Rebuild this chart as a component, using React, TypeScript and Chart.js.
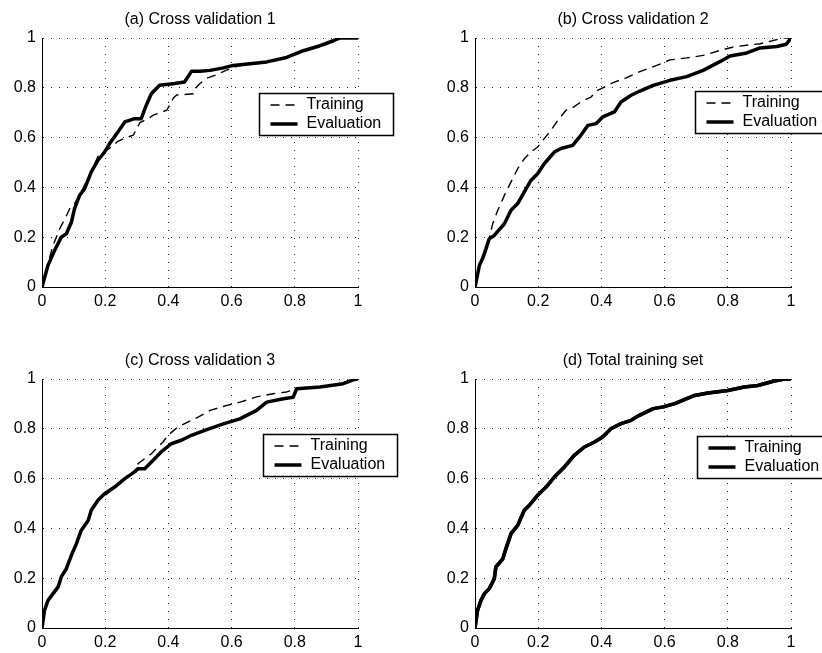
import React, { useEffect, useRef } from 'react';
import { Chart, registerables } from 'chart.js';

Chart.register(...registerables);
Chart.defaults.font.family = '"Liberation Sans", Arial, Helvetica, sans-serif';

// ---------- tick labels ----------
const TICK_VALUES = [0, 0.2, 0.4, 0.6, 0.8, 1];
const TICK_LABELS = ['0', '0.2', '0.4', '0.6', '0.8', '1'];
const SERIES_LABELS = ['Training', 'Evaluation'];
const PANEL_TITLES = [
  '(a) Cross validation 1',
  '(b) Cross validation 2',
  '(c) Cross validation 3',
  '(d) Total training set',
];

// ---------- (a) Cross validation 1 ----------
const A_TRAIN_X = [0, 0.02, 0.035, 0.056, 0.075, 0.088, 0.103, 0.12, 0.135, 0.156, 0.177, 0.2, 0.219, 0.24, 0.262, 0.289, 0.31, 0.34, 0.352, 0.395, 0.416, 0.426, 0.479, 0.49, 0.5, 0.52, 0.55, 0.584, 0.62, 0.7, 0.75, 0.8, 0.85, 0.9, 0.92, 0.94, 1];
const A_TRAIN_Y = [0, 0.1, 0.167, 0.234, 0.28, 0.315, 0.335, 0.37, 0.41, 0.46, 0.525, 0.545, 0.562, 0.585, 0.598, 0.61, 0.66, 0.68, 0.69, 0.71, 0.759, 0.771, 0.776, 0.804, 0.817, 0.838, 0.851, 0.871, 0.888, 0.9, 0.915, 0.935, 0.955, 0.975, 0.985, 1, 1];
const A_EVAL_X = [0, 0.019, 0.04, 0.061, 0.077, 0.093, 0.103, 0.119, 0.135, 0.156, 0.177, 0.198, 0.214, 0.24, 0.262, 0.293, 0.314, 0.33, 0.346, 0.372, 0.42, 0.451, 0.473, 0.5, 0.532, 0.574, 0.605, 0.658, 0.711, 0.774, 0.827, 0.88, 0.922, 0.943, 1];
const A_EVAL_Y = [0, 0.087, 0.147, 0.2, 0.214, 0.26, 0.315, 0.368, 0.395, 0.462, 0.509, 0.542, 0.576, 0.622, 0.663, 0.676, 0.676, 0.73, 0.776, 0.81, 0.817, 0.823, 0.866, 0.866, 0.87, 0.88, 0.89, 0.897, 0.904, 0.922, 0.949, 0.969, 0.989, 1, 1];

// ---------- (b) Cross validation 2 ----------
const B_TRAIN_X = [0, 0.014, 0.024, 0.04, 0.056, 0.072, 0.093, 0.114, 0.135, 0.156, 0.177, 0.198, 0.219, 0.24, 0.262, 0.288, 0.304, 0.335, 0.367, 0.388, 0.409, 0.441, 0.473, 0.522, 0.575, 0.617, 0.67, 0.722, 0.775, 0.817, 0.86, 0.902, 0.944, 0.976, 1];
const B_TRAIN_Y = [0, 0.09, 0.12, 0.167, 0.254, 0.308, 0.368, 0.422, 0.475, 0.515, 0.542, 0.562, 0.596, 0.629, 0.669, 0.71, 0.716, 0.743, 0.763, 0.79, 0.803, 0.823, 0.837, 0.865, 0.89, 0.912, 0.92, 0.93, 0.95, 0.964, 0.971, 0.977, 0.99, 1, 1];
const B_EVAL_X = [0, 0.014, 0.024, 0.035, 0.045, 0.061, 0.093, 0.114, 0.135, 0.156, 0.177, 0.198, 0.219, 0.251, 0.272, 0.309, 0.335, 0.357, 0.383, 0.404, 0.441, 0.462, 0.494, 0.52, 0.564, 0.617, 0.67, 0.722, 0.775, 0.807, 0.86, 0.902, 0.955, 0.985, 1];
const B_EVAL_Y = [0, 0.087, 0.114, 0.154, 0.194, 0.207, 0.254, 0.308, 0.335, 0.382, 0.428, 0.455, 0.495, 0.542, 0.556, 0.569, 0.609, 0.649, 0.656, 0.683, 0.703, 0.743, 0.77, 0.786, 0.81, 0.83, 0.845, 0.87, 0.905, 0.928, 0.94, 0.96, 0.966, 0.975, 1];

// ---------- (c) Cross validation 3 ----------
const C_TRAIN_X = [0, 0.008, 0.019, 0.035, 0.051, 0.061, 0.077, 0.093, 0.109, 0.124, 0.146, 0.156, 0.177, 0.198, 0.23, 0.262, 0.293, 0.304, 0.346, 0.383, 0.399, 0.43, 0.473, 0.494, 0.532, 0.585, 0.627, 0.679, 0.732, 0.774, 0.806, 0.88, 0.953, 0.985, 1];
const C_TRAIN_Y = [0, 0.07, 0.11, 0.14, 0.168, 0.2, 0.24, 0.29, 0.335, 0.39, 0.43, 0.47, 0.51, 0.53, 0.565, 0.6, 0.63, 0.66, 0.7, 0.747, 0.774, 0.807, 0.834, 0.847, 0.874, 0.894, 0.907, 0.928, 0.941, 0.948, 0.961, 0.968, 0.981, 0.997, 1];
const C_EVAL_X = [0, 0.008, 0.019, 0.035, 0.051, 0.061, 0.077, 0.093, 0.109, 0.124, 0.146, 0.156, 0.177, 0.198, 0.23, 0.262, 0.293, 0.304, 0.325, 0.351, 0.377, 0.409, 0.441, 0.473, 0.515, 0.574, 0.626, 0.679, 0.711, 0.764, 0.795, 0.806, 0.88, 0.953, 0.985, 1];
const C_EVAL_Y = [0, 0.071, 0.111, 0.138, 0.165, 0.205, 0.238, 0.292, 0.339, 0.392, 0.432, 0.473, 0.513, 0.539, 0.566, 0.6, 0.627, 0.64, 0.64, 0.673, 0.707, 0.74, 0.754, 0.774, 0.794, 0.82, 0.84, 0.874, 0.907, 0.921, 0.927, 0.961, 0.968, 0.981, 0.997, 1];

// ---------- (d) Total training set (both curves coincide) ----------
const D_TRAIN_X = [0, 0.008, 0.019, 0.03, 0.045, 0.061, 0.066, 0.088, 0.098, 0.114, 0.135, 0.156, 0.172, 0.198, 0.225, 0.251, 0.283, 0.314, 0.346, 0.378, 0.404, 0.43, 0.462, 0.494, 0.52, 0.564, 0.596, 0.632, 0.695, 0.737, 0.8, 0.852, 0.895, 0.947, 0.979, 1];
const D_TRAIN_Y = [0, 0.071, 0.111, 0.138, 0.158, 0.198, 0.245, 0.278, 0.319, 0.379, 0.412, 0.473, 0.493, 0.533, 0.566, 0.606, 0.647, 0.693, 0.727, 0.747, 0.767, 0.8, 0.821, 0.834, 0.854, 0.881, 0.888, 0.901, 0.934, 0.944, 0.954, 0.968, 0.974, 0.992, 1, 1];
const D_EVAL_X = D_TRAIN_X;
const D_EVAL_Y = D_TRAIN_Y;

// ---------- layout (positions/sizes only) ----------
const PANELS = [
  { title: PANEL_TITLES[0], tx: A_TRAIN_X, ty: A_TRAIN_Y, ex: A_EVAL_X, ey: A_EVAL_Y, dashed: true, left: 0, top: 0, w: 411, h: 320, xh: 33, ldx: 217, ldy: 55 },
  { title: PANEL_TITLES[1], tx: B_TRAIN_X, ty: B_TRAIN_Y, ex: B_EVAL_X, ey: B_EVAL_Y, dashed: true, left: 433, top: 0, w: 389, h: 320, xh: 33, ldx: 220, ldy: 53 },
  { title: PANEL_TITLES[2], tx: C_TRAIN_X, ty: C_TRAIN_Y, ex: C_EVAL_X, ey: C_EVAL_Y, dashed: true, left: 0, top: 341, w: 411, h: 312, xh: 25, ldx: 221, ldy: 55 },
  { title: PANEL_TITLES[3], tx: D_TRAIN_X, ty: D_TRAIN_Y, ex: D_EVAL_X, ey: D_EVAL_Y, dashed: false, left: 433, top: 341, w: 389, h: 312, xh: 25, ldx: 222, ldy: 57 },
];

const PLOT_LEFT = 42;
const PLOT_RIGHT = 358;
const FONT = { size: 16, family: '"Liberation Sans", Arial, sans-serif' };

const toPts = (xs: number[], ys: number[]) => xs.map((x, i) => ({ x, y: ys[i] }));

const boxLegend = {
  id: 'boxLegend',
  afterDraw(chart: any, _args: any, opts: any) {
    const { ctx, chartArea } = chart;
    const L = Math.round(chartArea.left + opts.dx) + 0.5;
    const T = Math.round(chartArea.top + opts.dy) + 0.5;
    const W = 134;
    const H = 42;
    ctx.save();
    ctx.fillStyle = '#fff';
    ctx.fillRect(L, T, W, H);
    ctx.strokeStyle = '#000';
    ctx.lineWidth = 1.5;
    ctx.setLineDash([]);
    ctx.strokeRect(L, T, W, H);
    chart.data.datasets.forEach((ds: any, i: number) => {
      const y = T + 11.5 + i * 19;
      ctx.beginPath();
      ctx.setLineDash(ds.borderDash || []);
      ctx.lineWidth = ds.borderWidth;
      ctx.strokeStyle = ds.borderColor;
      ctx.lineCap = 'butt';
      ctx.moveTo(L + 11, y);
      ctx.lineTo(L + 38, y);
      ctx.stroke();
      ctx.setLineDash([]);
      ctx.fillStyle = '#000';
      ctx.font = `16px ${FONT.family}`;
      ctx.textBaseline = 'middle';
      ctx.textAlign = 'left';
      ctx.fillText(ds.label, L + 47, y);
    });
    ctx.restore();
  },
};

function Panel(p: any) {
  const ref = useRef<HTMLCanvasElement>(null);
  useEffect(() => {
    const axisCommon = (isX: boolean) => ({
      type: 'linear',
      min: 0,
      max: 1,
      afterBuildTicks: (s: any) => {
        s.ticks = TICK_VALUES.map((v) => ({ value: v }));
      },
      afterFit: (s: any) => {
        if (isX) s.height = p.xh;
        else s.width = PLOT_LEFT;
      },
      ticks: {
        callback: (_v: any, i: number) => TICK_LABELS[i],
        font: FONT,
        color: '#000',
        padding: isX ? 5 : 6,
        maxRotation: 0,
        autoSkip: false,
      },
      grid: { color: '#222', lineWidth: 1, drawTicks: false },
      border: { display: true, color: '#000', width: 1, dash: [1, 7] },
    });
    const chart = new Chart(ref.current!, {
      type: 'line',
      data: {
        datasets: [
          {
            label: SERIES_LABELS[0],
            data: toPts(p.tx, p.ty),
            borderColor: '#000',
            borderWidth: p.dashed ? 1.4 : 3.5,
            borderDash: p.dashed ? [9, 6] : [],
            pointRadius: 0,
            tension: 0,
            fill: false,
            borderJoinStyle: 'round',
          },
          {
            label: SERIES_LABELS[1],
            data: toPts(p.ex, p.ey),
            borderColor: '#000',
            borderWidth: 3.5,
            borderDash: [],
            pointRadius: 0,
            tension: 0,
            fill: false,
            borderJoinStyle: 'round',
          },
        ],
      },
      options: {
        responsive: false,
        animation: false,
        events: [],
        layout: { padding: { left: 0, right: p.w - PLOT_RIGHT, top: 0, bottom: 0 } },
        plugins: {
          legend: { display: false },
          tooltip: { enabled: false },
          title: {
            display: true,
            text: p.title,
            fullSize: false,
            color: '#000',
            font: { ...FONT, weight: 'normal' },
            padding: { top: 9.5, bottom: 9.3 },
          },
          boxLegend: { dx: p.ldx, dy: p.ldy },
        } as any,
        scales: {
          x: axisCommon(true) as any,
          y: axisCommon(false) as any,
        },
      },
      plugins: [boxLegend as any],
    } as any);
    return () => chart.destroy();
  }, []);
  return (
    <div style={{ position: 'absolute', left: p.left, top: p.top, width: p.w, height: p.h }}>
      <canvas ref={ref} width={p.w} height={p.h} style={{ display: 'block', width: p.w, height: p.h }} />
    </div>
  );
}

export default function App() {
  return (
    <div
      style={{
        position: 'absolute',
        left: 0,
        top: 0,
        width: 822,
        height: 653,
        overflow: 'hidden',
        background: '#fff',
      }}
    >
      {PANELS.map((p, i) => (
        <Panel key={i} {...p} />
      ))}
    </div>
  );
}
